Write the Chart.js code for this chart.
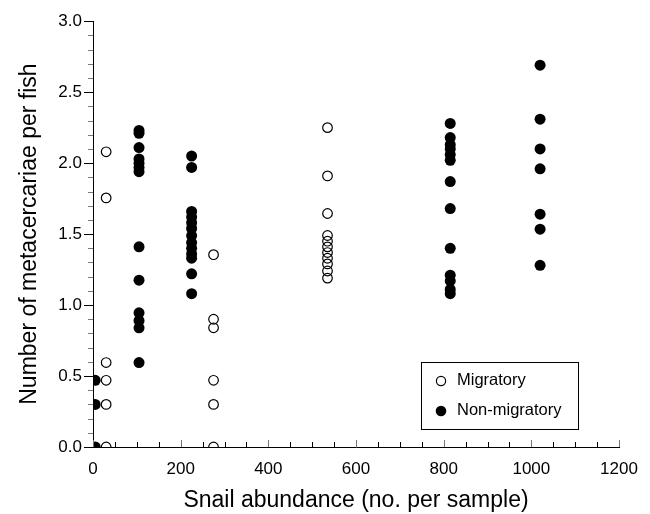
<!DOCTYPE html>
<html>
<head>
<meta charset="utf-8">
<script src="https://cdn.jsdelivr.net/npm/chart.js@4/dist/chart.umd.min.js"></script>
<style>
html,body{margin:0;padding:0;background:#fff;}
#wrap{width:650px;height:514px;position:relative;}
</style>
</head>
<body>
<div id="wrap"><canvas id="c" width="650" height="514"></canvas></div>
<script>
// Snail abundance (no. per sample) for each sampled site
const migratoryAbundance = [30, 275, 535];
const nonMigratoryAbundance = [5, 105, 225, 815, 1020];

// Number of metacercariae per fish, one list per site
const migratoryValues = [
  [2.08, 1.755, 0.595, 0.47, 0.30, 0.0],
  [1.355, 0.90, 0.84, 0.47, 0.30, 0.0],
  [2.25, 1.91, 1.645, 1.49, 1.45, 1.41, 1.37, 1.33, 1.29, 1.24, 1.19]
];
const nonMigratoryValues = [
  [0.47, 0.30, 0.0],
  [2.23, 2.21, 2.11, 2.03, 2.00, 1.97, 1.94, 1.41, 1.175, 0.945, 0.89, 0.84, 0.595],
  [2.05, 1.97, 1.66, 1.62, 1.58, 1.54, 1.49, 1.44, 1.40, 1.36, 1.33, 1.22, 1.08],
  [2.28, 2.18, 2.13, 2.10, 2.06, 2.02, 1.87, 1.68, 1.40, 1.21, 1.17, 1.11, 1.08],
  [2.69, 2.31, 2.10, 1.96, 1.64, 1.535, 1.28]
];

const xTicks = [0, 200, 400, 600, 800, 1000, 1200];
const yTicks = [0.0, 0.5, 1.0, 1.5, 2.0, 2.5, 3.0];
const seriesNames = ['Migratory', 'Non-migratory'];
const xTitle = 'Snail abundance (no. per sample)';
const yTitle = 'Number of metacercariae per fish';

function toPoints(xs, vals) {
  const pts = [];
  xs.forEach((x, i) => vals[i].forEach(v => pts.push({x: x, y: v})));
  return pts;
}

const FONT = '"Liberation Sans", Arial, Helvetica, sans-serif';

const minorTicks = {
  id: 'minorTicks',
  afterDraw(chart) {
    const ctx = chart.ctx;
    const xs = chart.scales.x, ys = chart.scales.y;
    const y0 = ys.getPixelForValue(0);
    const x0 = xs.getPixelForValue(0);
    ctx.save();
    ctx.lineWidth = 1;
    for (let v = 0; v <= 1200; v += 50) {
      const px = Math.round(xs.getPixelForValue(v)) + 0.5;
      const major = v % 200 === 0;
      ctx.strokeStyle = major ? '#777' : '#000';
      ctx.beginPath();
      ctx.moveTo(px, y0);
      ctx.lineTo(px, y0 - (major ? 7 : 5));
      ctx.stroke();
    }
    for (let i = 0; i <= 30; i++) {
      const v = i / 10;
      const py = Math.round(ys.getPixelForValue(v)) + 0.5;
      const major = i % 5 === 0;
      ctx.strokeStyle = major ? '#000' : '#777';
      ctx.beginPath();
      ctx.moveTo(x0, py);
      ctx.lineTo(x0 - (major ? 9 : 5), py);
      ctx.stroke();
    }
    ctx.restore();
  }
};

const boxLegend = {
  id: 'boxLegend',
  afterDraw(chart) {
    const ctx = chart.ctx;
    const bx = 421.5, by = 362.5, bw = 157, bh = 67;
    ctx.save();
    ctx.strokeStyle = '#000';
    ctx.lineWidth = 1;
    ctx.strokeRect(bx, by, bw, bh);
    ctx.font = '16.5px ' + FONT;
    ctx.fillStyle = '#000';
    ctx.textBaseline = 'middle';
    // Migratory
    ctx.beginPath();
    ctx.arc(441, 381, 4.6, 0, Math.PI * 2);
    ctx.lineWidth = 1.2;
    ctx.stroke();
    ctx.fillText(seriesNames[0], 457, 380);
    // Non-migratory
    ctx.beginPath();
    ctx.arc(441, 411, 5.3, 0, Math.PI * 2);
    ctx.fill();
    ctx.fillText(seriesNames[1], 457, 410);
    ctx.restore();
  }
};

new Chart(document.getElementById('c'), {
  type: 'scatter',
  data: {
    datasets: [
      {
        label: seriesNames[1],
        data: toPoints(nonMigratoryAbundance, nonMigratoryValues),
        pointRadius: 5.5,
        pointBackgroundColor: '#000',
        pointBorderColor: '#000',
        pointBorderWidth: 0
      },
      {
        label: seriesNames[0],
        data: toPoints(migratoryAbundance, migratoryValues),
        pointRadius: 4.8,
        pointBackgroundColor: 'rgba(0,0,0,0)',
        pointBorderColor: '#000',
        pointBorderWidth: 1.2
      }
    ]
  },
  options: {
    responsive: false,
    animation: false,
    events: [],
    layout: {padding: {left: 0, right: 31, top: 18, bottom: 0}},
    plugins: {legend: {display: false}, tooltip: {enabled: false}},
    scales: {
      x: {
        type: 'linear',
        min: 0, max: 1200,
        afterBuildTicks: s => { s.ticks = xTicks.map(v => ({value: v})); },
        afterFit: s => { s.height = 67; },
        border: {display: true, color: '#000', width: 1},
        grid: {display: true, drawOnChartArea: false, drawTicks: false},
        ticks: {
          color: '#000', padding: 12, maxRotation: 0,
          font: {family: FONT, size: 17},
          callback: v => String(v)
        },
        title: {
          display: true, text: xTitle, color: '#000',
          font: {family: FONT, size: 23}, padding: {top: 4, bottom: 0}
        }
      },
      y: {
        type: 'linear',
        min: 0, max: 3,
        afterBuildTicks: s => { s.ticks = yTicks.map(v => ({value: v})); },
        afterFit: s => { s.width = 93; },
        border: {display: true, color: '#000', width: 1},
        grid: {display: true, drawOnChartArea: false, drawTicks: false},
        ticks: {
          color: '#000', padding: 11,
          font: {family: FONT, size: 17},
          callback: v => Number(v).toFixed(1)
        },
        title: {
          display: true, text: yTitle, color: '#000',
          font: {family: FONT, size: 23}, padding: {top: 16, bottom: 0}
        }
      }
    }
  },
  plugins: [minorTicks, boxLegend]
});
</script>
</body>
</html>
